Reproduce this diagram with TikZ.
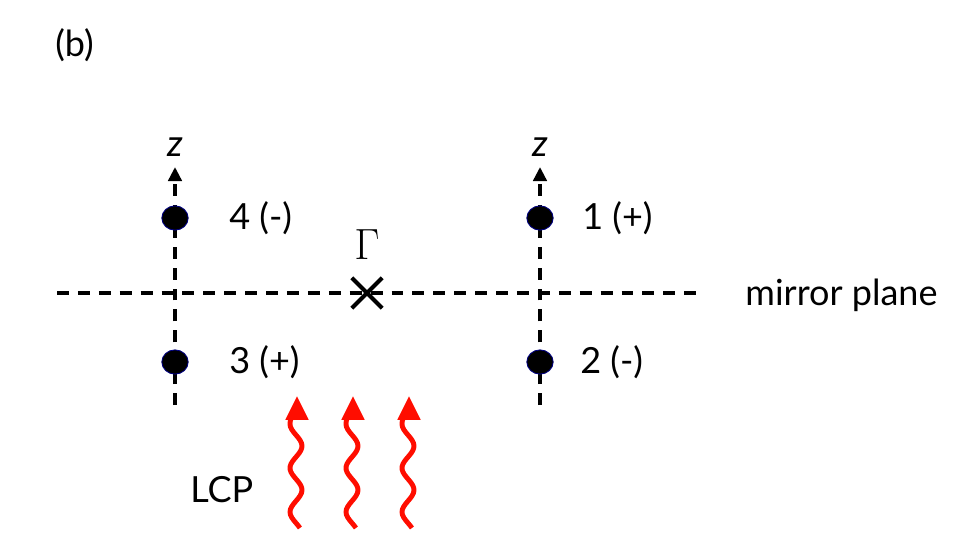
\documentclass[tikz,border=0pt]{standalone}
\usepackage{fontspec}
\setmainfont{Lato}
\usetikzlibrary{arrows.meta,shapes.geometric,shapes.misc}
\begin{document}
\begin{tikzpicture}[x=0.02cm,y=-0.02cm,
  dashline/.style={line width=2pt, dash pattern=on 6.8pt off 5.1pt},
  axis/.style={dashline, -{Triangle[length=8pt,width=7.6pt]}},
  dot/.style={ellipse, fill=black, draw=blue!50!black, line width=0.5pt, minimum width=15pt, minimum height=13.8pt, inner sep=0pt},
  lbl/.style={font=\fontsize{20.5}{24}\selectfont, anchor=west, inner sep=0pt},
  zlbl/.style={font=\fontsize{21}{24}\selectfont\itshape, inner sep=0pt},
  wave/.style={red!90!orange, line width=2.8pt, -{Triangle[length=13.6pt,width=12.5pt]}},
  gx/.style={cross out, draw=black, line width=2.3pt, minimum size=15pt, inner sep=0pt}
]
\useasboundingbox (0,0) rectangle (964,548);

\node[lbl] (b) at (55,45) {(b)};

% horizontal mirror plane
\coordinate (hl) at (57,293);
\coordinate (hr) at (697,293);
\draw[dashline] (hl) -- (hr);
\node[lbl] (mp) at (745,295) {mirror plane};

% left axis
\coordinate (lb) at (175,405);
\coordinate (lt) at (175,167);
\draw[axis] (lb) -- (lt);
\node[zlbl] (zl) at (175,147) {z};
\node[dot] (d4) at (175,218) {};
\node[dot] (d3) at (175,362) {};
\node[lbl] (l4) at (229,218) {4 (-)};
\node[lbl] (l3) at (229,362) {3 (+)};

% right axis
\coordinate (rb) at (540,405);
\coordinate (rt) at (540,167);
\draw[axis] (rb) -- (rt);
\node[zlbl] (zr) at (540,147) {z};
\node[dot] (d1) at (540,218) {};
\node[dot] (d2) at (540,362) {};
\node[lbl] (l1) at (582,218) {1 (+)};
\node[lbl] (l2) at (580,362) {2 (-)};

% Gamma point
\node[gx] (G) at (367,293) {};
\node[font=\fontsize{24}{28}\selectfont, inner sep=0pt] (Gl) at (367,245) {$\Gamma$};

% LCP light
\node[lbl] (lcp) at (190,490) {LCP};
\foreach \cx in {296,352,408}{
  \draw[wave] plot[smooth, domain=528:424, samples=40, variable=\t] ({\cx + 6*cos((\t-490)/44*360)}, {\t})
    .. controls (\cx-6,414) and (\cx+1,416) .. (\cx+1,396);
}
\end{tikzpicture}
\end{document}
